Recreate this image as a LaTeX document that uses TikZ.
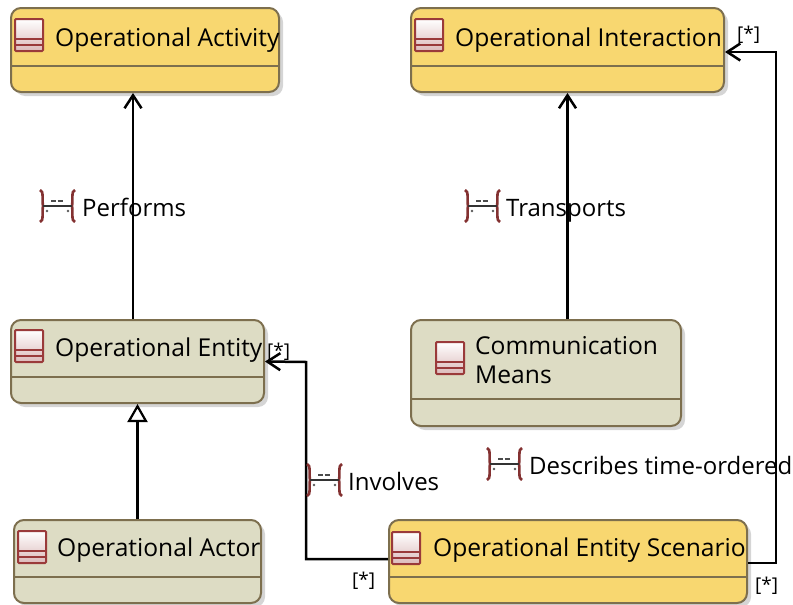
\documentclass[tikz,border=0pt]{standalone}
\usepackage{xcolor}
\usepackage{fontspec}
\setmainfont{Open Sans}
\usetikzlibrary{arrows,arrows.meta,positioning,shadows}
\definecolor{classyellow}{HTML}{F8D770}
\definecolor{classgrey}{HTML}{DDDCC4}
\definecolor{classedge}{HTML}{7D6F4E}
\definecolor{iconred}{HTML}{9A3A3A}
\tikzset{
classbox/.style={draw=classedge,line width=2pt,rounded corners=10pt,inner sep=0pt,
drop shadow={shadow xshift=4pt,shadow yshift=-4pt,fill=black!30,opacity=.55}},
classdiv/.style={draw=classedge,line width=1.2pt},
classname/.style={inner sep=0pt,anchor=base west,font=\fontsize{24.6}{28}\selectfont,text=black},
relname/.style={inner sep=0pt,anchor=base west,font=\fontsize{24}{28}\selectfont,text=black},
mult/.style={inner sep=0pt,anchor=base west,font=\fontsize{19}{24}\selectfont,text=black},
conn/.style={draw=black,line width=2.5pt},
barb/.style={-{Straight Barb[length=13pt,width=17pt]}},
pics/classicon/.style={code={
\draw[iconred,line width=2pt,rounded corners=1pt,top color=white,bottom color=iconred!35] (0,0) rectangle (28,32);
\draw[iconred,line width=1.6pt] (0,20) -- (28,20) (0,26) -- (28,26);
}},
pics/relicon/.style={code={
\draw[iconred!85!black,line width=2.6pt] (0,0) .. controls (4,0) and (2,12) .. (3,16) .. controls (2,20) and (4,32) .. (0,32);
\draw[iconred!85!black,line width=2.6pt] (35,0) .. controls (31,0) and (33,12) .. (32,16) .. controls (33,20) and (31,32) .. (35,32);
\draw[black!80,line width=2pt] (3,16) -- (32,16);
\draw[black!70,line width=2pt,dash pattern=on 5pt off 1.5pt] (11,11) -- (23,11);
\fill[black!65] (7,21) circle (1.3) (28,21) circle (1.3);
}}
}
\begin{document}
\begin{tikzpicture}[x=1pt,y=-1pt]
\useasboundingbox (0,0) rectangle (793,605);
\foreach \nm/\cx/\cy/\w/\h/\dv/\col in {
activity/145/50/268/84/66/classyellow,
interaction/567.5/50/313/84/66/classyellow,
entity/137.5/361.5/253/83/377/classgrey,
actor/137.5/561.5/247/83/577/classgrey,
means/546/373/270/106/399/classgrey,
scenario/568/561.5/358/83/577/classyellow}
{
\node[classbox,fill=\col,minimum width=\w pt,minimum height=\h pt] (\nm) at (\cx,\cy) {};
\draw[classdiv] (\nm.west |- 0,\dv) -- (\nm.east |- 0,\dv);
}
\pic at (15,19) {classicon};
\pic at (415,19) {classicon};
\pic at (15,330) {classicon};
\pic at (18,531) {classicon};
\pic at (436,342) {classicon};
\pic at (392,532) {classicon};
\node[classname] (activitytxt) at (55,46) {Operational Activity};
\node[classname] (interactiontxt) at (455,46) {Operational Interaction};
\node[classname] (entitytxt) at (55,356) {Operational Entity};
\node[classname] (actortxt) at (57,556) {Operational Actor};
\node[classname] (meanstxt) at (475,354) {Communication};
\node[classname] (meanstxtb) at (475,383) {Means};
\node[classname] (scenariotxt) at (433,556) {Operational Entity Scenario};
\draw[conn,barb] ([xshift=-4.5pt]entity.north) -- ([xshift=-12pt]activity.south);
\draw[conn,barb] (interaction.south |- means.north) -- (interaction.south);
\draw[conn,-{Triangle[open,length=18pt,width=20pt,line width=2.2pt]}] (actor.north) -- (entity.south);
\coordinate (involvesbend) at (306,362);
\coordinate (describesbend) at (776,52);
\draw[conn,barb] ([yshift=2.5pt]scenario.west) -| (involvesbend) -- (entity.east);
\draw[conn,barb] ([yshift=-1.5pt]scenario.east) -| (describesbend) -- ([yshift=-2pt]interaction.east);
\pic at (40,190) {relicon};
\pic at (465,190) {relicon};
\pic at (307,464) {relicon};
\pic at (487,448) {relicon};
\node[relname] (performstxt) at (82,216) {Performs};
\node[relname] (transportstxt) at (506,216) {Transports};
\node[relname] (involvestxt) at (348,490) {Involves};
\node[relname] (describestxt) at (529,474) {Describes time-ordered};
\node[mult] (multentity) at (267,357) {[*]};
\node[mult] (multinteraction) at (737,40) {[*]};
\node[mult] (multinvolves) at (352,586) {[*]};
\node[mult] (multdescribes) at (755,591) {[*]};
\end{tikzpicture}
\end{document}
